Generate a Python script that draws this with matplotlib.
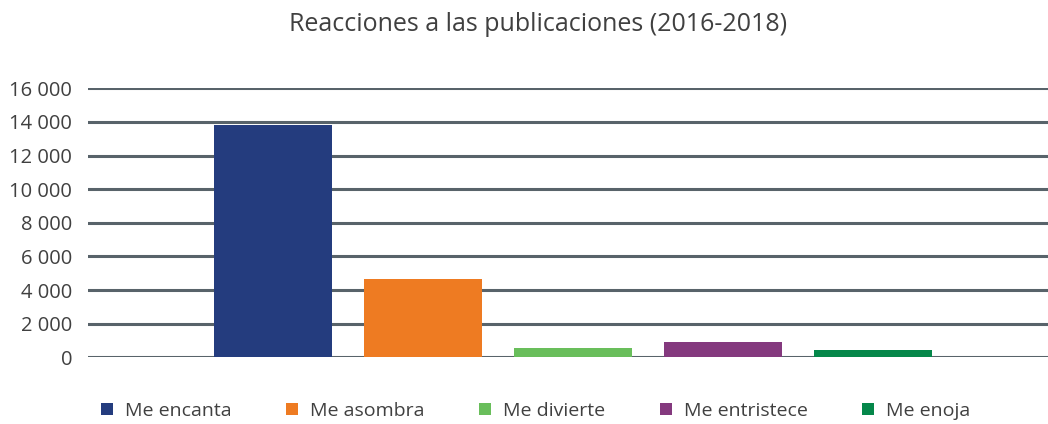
import matplotlib.pyplot as plt
from matplotlib.ticker import FixedLocator

# Datos
reacciones = ['Me encanta', 'Me asombra', 'Me divierte', 'Me entristece', 'Me enoja']
valores = [13800, 4630, 530, 920, 410]
colores = ['#243C7E', '#EE7B22', '#69BE5B', '#84397E', '#05874A']
yticks = [0, 2000, 4000, 6000, 8000, 10000, 12000, 14000, 16000]
ytick_labels = ['0', '2 000', '4 000', '6 000', '8 000', '10 000', '12 000', '14 000', '16 000']

fuente = 'Open Sans'

fig = plt.figure(figsize=(10.48, 4.24), dpi=100)
ax = fig.add_axes([88/1048, 0.1573, 1 - 88/1048, 0.7917 - 0.1573])

for i, (r, v, c) in enumerate(zip(reacciones, valores, colores)):
    ax.bar(i, v, width=118/150, color=c, label=r, zorder=3)

ax.set_xlim(-185/150, 775/150)
ax.set_ylim(0, 16000)
ax.yaxis.set_major_locator(FixedLocator(yticks))
ax.set_yticklabels(ytick_labels, fontfamily=fuente, fontsize=14.5, color='#404040')
ax.set_xticks([])
ax.tick_params(axis='y', length=0, pad=11.5)
ax.grid(axis='y', color='#58636A', linewidth=2.2, zorder=0)
for s in ax.spines.values():
    s.set_visible(False)

fig.text(0.513, 0.942, 'Reacciones a las publicaciones (2016-2018)', ha='center', va='center',
         fontfamily=fuente, fontsize=18, color='#404040')

leg = fig.legend(loc='center', bbox_to_anchor=(0.511, 0.031), ncol=5, frameon=False,
                 handlelength=0.62, handleheight=0.62, handletextpad=0.62, columnspacing=2.8,
                 prop={'family': fuente, 'size': 14})
for t in leg.get_texts():
    t.set_color('#404040')

fig.savefig('out.png', dpi=100)
